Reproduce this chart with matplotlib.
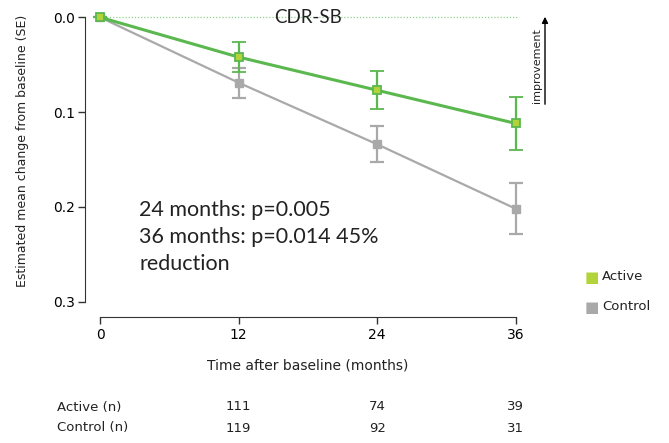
import numpy as np
import matplotlib
matplotlib.use("Agg")
import matplotlib.pyplot as plt

# data
months = [0, 12, 24, 36]
active_mean = [0.0, 0.042, 0.077, 0.112]
active_se = [0.0, 0.016, 0.020, 0.028]
control_mean = [0.0, 0.069, 0.134, 0.202]
control_se = [0.0, 0.016, 0.019, 0.027]
n_months = [12, 24, 36]
active_n = [111, 74, 39]
control_n = [119, 92, 31]

green = '#5bb84f'
green_face = '#b2d43a'
gray = '#a9a9a9'
txt = '#222222'

fig = plt.figure(figsize=(6.69, 4.43), dpi=100)
ax = fig.add_axes([0.1495, 0.319, 0.6215, 0.642])

ax.axhline(0, xmin=0, xmax=1.003, color='#8fd48a', lw=0.9, ls=(0, (1, 1.5)),
           zorder=1, clip_on=False)

ax.errorbar(months, control_mean, yerr=control_se, color=gray, lw=1.6,
            marker='s', ms=5.5, mfc=gray, mec=gray, capsize=5, capthick=1.6,
            elinewidth=1.6, clip_on=False, zorder=3)
ax.errorbar(months, active_mean, yerr=active_se, color=green, lw=2.2,
            marker='s', ms=5.5, mfc=green_face, mec=green, mew=1.3,
            capsize=5, capthick=1.6, elinewidth=1.6, clip_on=False, zorder=4)

ax.set_xlim(0, 36)
ax.set_ylim(0.3, 0.0)
ax.set_xticks(months)
ax.set_yticks([0.0, 0.1, 0.2, 0.3])
ax.set_yticklabels(['0.0', '0.1', '0.2', '0.3'], fontsize=10, color=txt)
ax.set_xticklabels([str(m) for m in months], fontsize=10, color=txt)

for side in ['top', 'right']:
    ax.spines[side].set_visible(False)
ax.spines['left'].set_position(('outward', 11))
ax.spines['bottom'].set_position(('outward', 11))
ax.spines['left'].set_color('#333333')
ax.spines['bottom'].set_color('#333333')
ax.tick_params(axis='both', length=5, width=1, color='#333333')
ax.tick_params(axis='y', pad=2)
ax.tick_params(axis='x', pad=3)

ax.set_ylabel('Estimated mean change from baseline (SE)', fontsize=9,
              color=txt)
ax.yaxis.set_label_coords(-0.172, 0.53)
ax.set_xlabel('Time after baseline (months)', fontsize=10, color=txt,
              labelpad=12)

ax.text(0.5, 1.0, 'CDR-SB', transform=ax.transAxes, ha='center', va='center',
        fontsize=13.5, family='Lato', color=txt)

ax.text(3.4, 0.232, '24 months: p=0.005\n36 months: p=0.014 45%\nreduction',
        ha='left', va='center', fontsize=15.5, family='Lato', color=txt,
        linespacing=1.43)

# improvement arrow
fig.add_artist(matplotlib.patches.FancyArrowPatch(
    (545 / 669, 1 - 107 / 443), (545 / 669, 1 - 14 / 443),
    transform=fig.transFigure, arrowstyle='-|>', mutation_scale=9,
    color='black', lw=1))
fig.text(537 / 669, 1 - 66 / 443, 'improvement', rotation=90, ha='center',
         va='center', fontsize=8, color=txt)

# legend
fig.text(592 / 669, 1 - 277 / 443, '■', ha='center', va='center',
         fontsize=11, color=green_face)
fig.text(602 / 669, 1 - 277 / 443, 'Active', ha='left', va='center',
         fontsize=9.5, color=txt)
fig.text(592 / 669, 1 - 307 / 443, '■', ha='center', va='center',
         fontsize=11, color=gray)
fig.text(602 / 669, 1 - 307 / 443, 'Control', ha='left', va='center',
         fontsize=9.5, color=txt)

# numbers at risk
trans = matplotlib.transforms.blended_transform_factory(ax.transData,
                                                        fig.transFigure)
for label, counts, ypix in [('Active (n)', active_n, 407),
                            ('Control (n)', control_n, 428)]:
    fig.text(57 / 669, 1 - ypix / 443, label, ha='left', va='center',
             fontsize=9.5, color=txt)
    for m, c in zip(n_months, counts):
        ax.text(m, 1 - ypix / 443, str(c), transform=trans, ha='center',
                va='center', fontsize=9.5, color=txt)

fig.savefig('out.png', dpi=100)
